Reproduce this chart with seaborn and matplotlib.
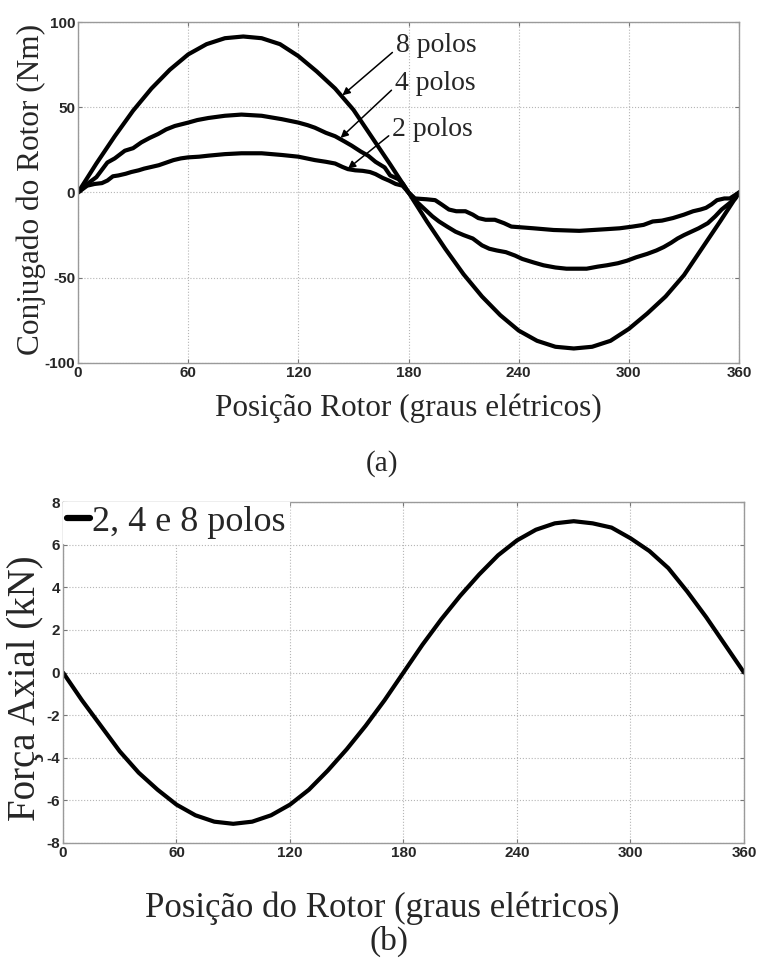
import matplotlib
matplotlib.use('Agg')
import matplotlib.pyplot as plt
import seaborn as sns
import numpy as np
import pandas as pd

# (a) rotor torque vs rotor position
pos_8p = [0, 10, 20, 30, 40, 50, 60, 70, 80, 90, 100, 110, 120, 130, 140, 150, 160, 170, 180,
          190, 200, 210, 220, 230, 240, 250, 260, 270, 280, 290, 300, 310, 320, 330, 340, 350, 360]
torque_8p = [0, 17, 33, 48, 61, 72, 81, 87, 90.5, 91.5, 90.5, 87, 80, 71, 61, 48.5, 32.5, 16.5, 0,
             -17, -33, -48, -61, -72, -81, -87, -90.5, -91.5, -90.5, -87, -80, -71, -61, -48.5, -32.5, -16.5, 0]

pos_4p = [0, 5, 10, 16, 20, 25.5, 30, 34.5, 39, 43.6, 48, 52.7, 60, 65, 71, 80, 89, 100, 111, 120,
          125, 129, 135, 140, 145, 149, 154, 158, 162, 167, 170, 174.5, 177, 180,
          185, 189, 193, 196.6, 201, 205.6, 210, 215, 220, 224, 228, 233, 238, 242, 248, 253.5, 260,
          266, 277, 283, 288, 294, 299, 304, 310, 315, 319, 323, 326.5, 330, 334, 338, 343, 347,
          350.5, 354, 358, 360]
torque_4p = [0, 5, 9, 17.6, 20, 24.5, 26, 29.4, 32, 34.3, 37, 39, 41, 42.5, 43.7, 45, 45.7, 45, 43, 41,
             39.5, 38, 35, 33, 30, 27.5, 24, 21.6, 18, 14.7, 10, 7.8, 5, 0,
             -6, -10, -14, -17, -20, -23, -25, -27, -31, -33, -34, -35, -37, -39, -41, -42.7, -44,
             -44.7, -44.7, -43.5, -42.7, -41.5, -40, -38, -36, -34, -32, -29.5, -27, -25, -23, -21, -18, -14,
             -10, -7, -3.5, 0]

pos_2p = [0, 5, 9, 13, 16, 19, 22, 26, 29, 33, 36, 40, 44, 48, 52, 56, 60, 66, 71, 80, 89, 100, 111,
          120, 129, 135, 140, 144, 147, 151, 155, 159, 162, 166, 169.5, 173, 176.7, 180,
          183.5, 190, 194.5, 198, 202, 206, 211, 215, 218, 222, 227, 232, 236, 242, 248, 259, 273,
          288, 295, 302, 308, 313, 318, 324, 330, 335, 339, 342, 345, 348, 352, 355, 360]
torque_2p = [0, 4, 5, 5.5, 7, 9.5, 10, 11, 12, 13, 14, 15, 16, 17.5, 19, 20, 20.6, 21, 21.6, 22.5, 23, 23, 22,
             21, 19, 18, 17, 15, 13.7, 13, 12.7, 12, 10.8, 8.5, 6.9, 5, 4, 0,
             -3.5, -4, -4.5, -7, -10, -11, -11, -13, -15, -16, -16, -18, -20, -20.5, -21, -22, -22.5,
             -21.5, -21, -20, -19, -17, -16.5, -15, -13, -11, -10, -9, -7, -4.5, -3.5, -3.5, 0]

# (b) axial force vs rotor position
pos_force = [0, 10, 20, 30, 40, 50, 60, 70, 80, 90, 100, 110, 120, 130, 140, 150, 160, 170, 180,
             190, 200, 210, 220, 230, 240, 250, 260, 270, 280, 290, 300, 310, 320, 330, 340, 350, 360]
force_kn = [0, -1.3, -2.5, -3.7, -4.7, -5.5, -6.2, -6.7, -7.0, -7.1, -7.0, -6.7, -6.2, -5.5, -4.6, -3.6, -2.5, -1.3, 0,
            1.3, 2.5, 3.6, 4.6, 5.5, 6.2, 6.7, 7.0, 7.1, 7.0, 6.8, 6.3, 5.7, 4.9, 3.8, 2.6, 1.3, 0]

x_ticks = [0, 60, 120, 180, 240, 300, 360]
y_ticks_a = [-100, -50, 0, 50, 100]
y_ticks_b = [-8, -6, -4, -2, 0, 2, 4, 6, 8]

sns.set_style('whitegrid', {'grid.linestyle': ':', 'grid.color': '#b5b5b5',
                            'axes.edgecolor': '#9a9a9a'})
plt.rcParams['font.family'] = ['Liberation Serif', 'DejaVu Serif']
plt.rcParams['axes.unicode_minus'] = False

df_a = pd.concat([
    pd.DataFrame({'pos': pos_8p, 'torque': torque_8p, 'polos': '8 polos'}),
    pd.DataFrame({'pos': pos_4p, 'torque': torque_4p, 'polos': '4 polos'}),
    pd.DataFrame({'pos': pos_2p, 'torque': torque_2p, 'polos': '2 polos'}),
])
df_b = pd.DataFrame({'pos': pos_force, 'force': force_kn})

fig = plt.figure(figsize=(7.59, 9.61), dpi=100)
ax1 = fig.add_axes([0.1028, 0.6223, 0.8709, 0.3548])
ax2 = fig.add_axes([0.0830, 0.1228, 0.8972, 0.3548])

sns.lineplot(data=df_a, x='pos', y='torque', hue='polos',
             palette={'8 polos': 'black', '4 polos': 'black', '2 polos': 'black'},
             linewidth=3, legend=False, sort=False, ax=ax1)
ax1.set_xlim(0, 360)
ax1.set_ylim(-100, 100)
ax1.set_xticks(x_ticks)
ax1.set_yticks(y_ticks_a)
ax1.set_xlabel('Posição Rotor (graus elétricos)', fontsize=22.5, labelpad=10)
ax1.set_ylabel('Conjugado do Rotor (Nm)', fontsize=22.5)
ax1.yaxis.set_label_coords(-0.048, 0.51)

arrow = dict(arrowstyle='-|>', color='black', lw=1.1, mutation_scale=11, shrinkA=0, shrinkB=0)
ax1.annotate('8 polos', xy=(144, 57), xytext=(173, 86), fontsize=20, va='center', ha='left',
             arrowprops=dict(arrow, relpos=(0.0, 0.35)))
ax1.annotate('4 polos', xy=(143, 32), xytext=(172.5, 64), fontsize=20, va='center', ha='left',
             arrowprops=dict(arrow, relpos=(0.0, 0.35)))
ax1.annotate('2 polos', xy=(147, 14), xytext=(171, 37), fontsize=20, va='center', ha='left',
             arrowprops=dict(arrow, relpos=(0.0, 0.35)))

sns.lineplot(data=df_b, x='pos', y='force', color='black', linewidth=3,
             label='2, 4 e 8 polos', ax=ax2)
ax2.set_xlim(0, 360)
ax2.set_ylim(-8, 8)
ax2.set_xticks(x_ticks)
ax2.set_yticks(y_ticks_b)
ax2.set_xlabel('Posição do Rotor (graus elétricos)', fontsize=25)
ax2.xaxis.set_label_coords(0.469, -0.142)
ax2.set_ylabel('Força Axial (kN)', fontsize=28)
ax2.yaxis.set_label_coords(-0.028, 0.455)
leg = ax2.legend(loc='upper left', bbox_to_anchor=(0.0, 1.0), borderaxespad=0.0, borderpad=0.1,
                 handlelength=0.65, handletextpad=0.05, fontsize=26, frameon=True,
                 fancybox=False, framealpha=1, edgecolor='white')
for h in leg.get_lines():
    h.set_linewidth(4.5)

for ax in (ax1, ax2):
    ax.tick_params(direction='in', length=3, width=0.8, color='#777777', pad=2,
                   top=True, right=True, bottom=True, left=True)
    for lab in ax.get_xticklabels() + ax.get_yticklabels():
        lab.set_fontfamily('Liberation Sans')
        lab.set_fontweight('bold')
        lab.set_fontsize(11)
    for sp in ax.spines.values():
        sp.set_linewidth(1.0)
    ax.grid(True, linestyle=':', color='#b5b5b5', linewidth=0.8)

fig.text(0.503, 0.518, '(a)', ha='center', va='center', fontsize=21)
fig.text(0.512, 0.020, '(b)', ha='center', va='center', fontsize=24)

fig.savefig('out.png', dpi=100)
